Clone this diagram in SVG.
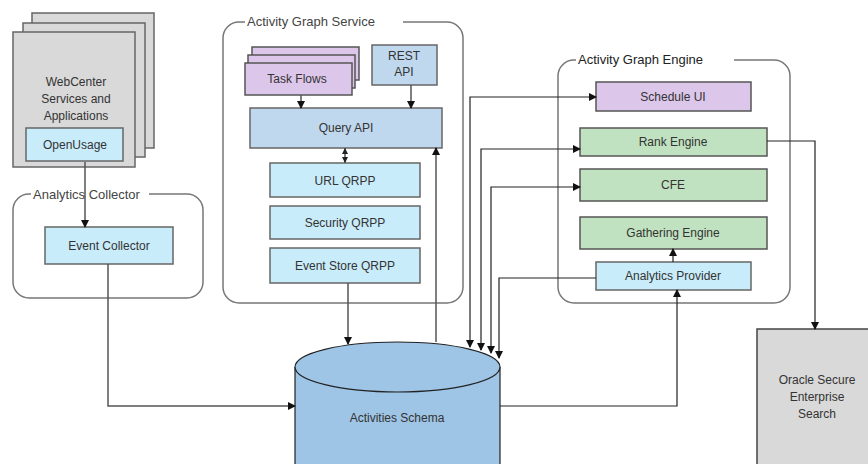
<svg xmlns="http://www.w3.org/2000/svg" width="868" height="464" viewBox="0 0 868 464">
<defs>
<marker id="ah" markerWidth="8" markerHeight="8" refX="7" refY="4" orient="auto" markerUnits="userSpaceOnUse">
<path d="M0,0 L8,4 L0,8 Z" fill="#111"/>
</marker>
<marker id="ahs" markerWidth="8" markerHeight="8" refX="1" refY="4" orient="auto" markerUnits="userSpaceOnUse">
<path d="M8,0 L0,4 L8,8 Z" fill="#111"/>
</marker>
<marker id="sm" markerWidth="6" markerHeight="6" refX="6" refY="3" orient="auto-start-reverse" markerUnits="userSpaceOnUse">
<path d="M0,0 L6,3 L0,6 Z" fill="#222"/>
</marker>
<style>
text{font-family:"Liberation Sans",Arial,sans-serif;font-size:12px;fill:#333;text-anchor:middle}
.grp{fill:#fff;stroke:#777;stroke-width:1.5}
.glab{text-anchor:start;font-size:13px;fill:#444}
.gray{fill:#d9d9d9;stroke:#666;stroke-width:1.5}
.lb{fill:#c9ecfa;stroke:#666;stroke-width:1.5}
.qb{fill:#c0d8ee;stroke:#666;stroke-width:1.5}
.pu{fill:#dcc6ea;stroke:#555;stroke-width:1.5}
.gr{fill:#c1e2c0;stroke:#555;stroke-width:1.5}
.c{fill:none;stroke:#222;stroke-width:1.2}
.cg{fill:none;stroke:#555;stroke-width:1.5}
</style>
</defs>

<g id="webcenter">
<rect x="32" y="13" width="122" height="135" class="gray"/>
<rect x="23" y="23" width="122" height="134" class="gray"/>
<rect x="13" y="32" width="122" height="135" class="gray"/>
<text x="76" y="86" fill="#555">WebCenter</text>
<text x="76" y="103" fill="#555">Services and</text>
<text x="76" y="120" fill="#555">Applications</text>
</g>
<g id="openusage">
<rect x="26" y="128" width="97" height="33" class="lb"/>
<text x="75" y="149" fill="#555">OpenUsage</text>
</g>

<g id="analytics-collector">
<rect x="13" y="194" width="190" height="104" rx="16" class="grp"/>
<rect x="31" y="188" width="118" height="12" fill="#fff"/>
<text x="33" y="199" class="glab">Analytics Collector</text>
</g>
<g id="event-collector">
<rect x="45" y="227" width="128" height="37" class="lb"/>
<text x="109" y="250" fill="#555">Event Collector</text>
</g>

<g id="activity-graph-service">
<rect x="223" y="22" width="240" height="281" rx="16" class="grp"/>
<rect x="245" y="15" width="158" height="12" fill="#fff"/>
<text x="247" y="26" class="glab">Activity Graph Service</text>
</g>
<g id="task-flows">
<rect x="252" y="47" width="107" height="33" class="pu"/>
<rect x="248" y="55" width="107" height="33" class="pu"/>
<rect x="245" y="63" width="107" height="32" class="pu"/>
<text x="297" y="83" fill="#555">Task Flows</text>
</g>
<g id="rest-api">
<rect x="372" y="45" width="65" height="40" class="qb"/>
<text x="404" y="60" fill="#555">REST</text>
<text x="404" y="76" fill="#555">API</text>
</g>
<g id="query-api">
<rect x="250" y="108" width="192" height="40" class="qb"/>
<text x="346" y="132" fill="#555">Query API</text>
</g>
<g id="url-qrpp">
<rect x="270" y="163" width="150" height="34" class="lb"/>
<text x="345" y="185" fill="#555">URL QRPP</text>
</g>
<g id="security-qrpp">
<rect x="270" y="206" width="150" height="33" class="lb"/>
<text x="345" y="227" fill="#555">Security QRPP</text>
</g>
<g id="event-store-qrpp">
<rect x="270" y="248" width="150" height="35" class="lb"/>
<text x="345" y="270" fill="#555">Event Store QRPP</text>
</g>

<g id="activity-graph-engine">
<rect x="558" y="60" width="232" height="243" rx="16" class="grp"/>
<rect x="576" y="53" width="158" height="12" fill="#fff"/>
<text x="578" y="64" class="glab" style="fill:#222">Activity Graph Engine</text>
</g>
<g id="schedule-ui">
<rect x="596" y="82" width="155" height="29" class="pu"/>
<text x="673" y="101">Schedule UI</text>
</g>
<g id="rank-engine">
<rect x="580" y="128" width="187" height="28" class="gr"/>
<text x="673" y="146">Rank Engine</text>
</g>
<g id="cfe">
<rect x="580" y="169" width="187" height="32" class="gr"/>
<text x="673" y="189">CFE</text>
</g>
<g id="gathering-engine">
<rect x="580" y="217" width="187" height="32" class="gr"/>
<text x="673" y="237">Gathering Engine</text>
</g>
<g id="analytics-provider">
<rect x="596" y="262" width="155" height="28" class="lb"/>
<text x="673" y="280">Analytics Provider</text>
</g>

<g id="activities-schema">
<path d="M295,367 L295,470 L500,470 L500,367" fill="#9ec4e6" stroke="#222" stroke-width="1.2"/>
<ellipse cx="397.5" cy="367" rx="102.5" ry="25" fill="#9ec4e6" stroke="#222" stroke-width="1.2"/>
<text x="397" y="422" font-size="13">Activities Schema</text>
</g>

<g id="oracle-ses">
<rect x="757" y="329" width="120" height="150" fill="#d9d9d9" stroke="#444" stroke-width="1.5"/>
<text x="817" y="384" font-size="13">Oracle Secure</text>
<text x="817" y="401" font-size="13">Enterprise</text>
<text x="817" y="418" font-size="13">Search</text>
</g>

<g id="connectors">
<path d="M85,162 L85,227" class="cg" marker-end="url(#ah)"/>
<path d="M108,264 L108,406 L295,406" class="cg" marker-end="url(#ah)"/>
<path d="M301,95 L301,108" class="cg" marker-end="url(#ah)"/>
<path d="M411,85 L411,108" class="cg" marker-end="url(#ah)"/>
<path d="M345,148 L345,163" class="cg" marker-start="url(#sm)" marker-end="url(#sm)"/>
<path d="M348,283 L348,344" class="cg" marker-end="url(#ah)"/>
<path d="M436,342 L436,148" class="cg" marker-end="url(#ah)"/>
<path d="M596,97 L470,97 L470,347" class="c" marker-start="url(#ahs)" marker-end="url(#ah)"/>
<path d="M580,149 L481,149 L481,350" class="c" marker-start="url(#ahs)" marker-end="url(#ah)"/>
<path d="M580,187 L491,187 L491,353" class="c" marker-start="url(#ahs)" marker-end="url(#ah)"/>
<path d="M596,278 L499,278 L499,358" class="c" marker-end="url(#ah)"/>
<path d="M673,262 L673,249" class="c" marker-end="url(#ah)"/>
<path d="M500,406 L677,406 L677,290" class="c" marker-end="url(#ah)"/>
<path d="M767,141 L815,141 L815,329" class="c" marker-end="url(#ah)"/>
</g>
</svg>
